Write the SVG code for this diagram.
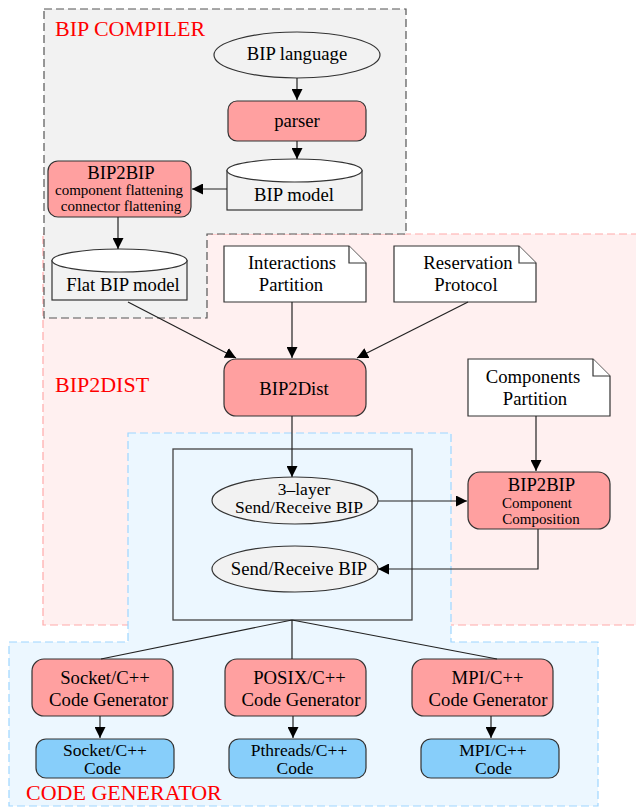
<svg xmlns="http://www.w3.org/2000/svg" width="636" height="807" viewBox="0 0 636 807">
<style>
text{font-family:'Liberation Serif','Times New Roman','DejaVu Serif',serif;fill:#000;text-anchor:middle}
.t{font-size:18.7px}
.c{font-size:17.5px}
.s{font-size:15px}
.lbl{font-size:22px;fill:#ff0000;text-anchor:start}
.proc{fill:#ffa0a0;stroke:#333;stroke-width:1.2}
.out{fill:#87cefa;stroke:#333;stroke-width:1.2}
.ell{fill:#f2f2f2;stroke:#333;stroke-width:1.2}
.note{fill:#fff;stroke:#333;stroke-width:1.2}
.cylb{fill:#f2f2f2;stroke:#333;stroke-width:1.2}
.cylt{fill:#fff;stroke:#333;stroke-width:1.2}
.edge{fill:none;stroke:#222;stroke-width:1.2}
.arr{marker-end:url(#ah)}
</style>
<defs>
<marker id="ah" markerUnits="userSpaceOnUse" markerWidth="11" markerHeight="11" refX="10" refY="5" orient="auto" viewBox="0 0 10 10">
<path d="M0,0 L10,5 L0,10 z" fill="#000"/>
</marker>
</defs>
<g font-family="'Liberation Serif','Times New Roman','DejaVu Serif',serif">
<g id="clusters">
<rect id="bip2dist-cluster" x="43" y="234" width="610" height="391" fill="#fff0f0" stroke="#ffaaaa" stroke-width="1.2" stroke-dasharray="8,4"/>
<polygon id="compiler-cluster" points="44,9 406,9 406,234 207,234 207,318 44,318" fill="#f2f2f2" stroke="#555" stroke-width="1.2" stroke-dasharray="8,4"/>
<polygon id="codegen-cluster" points="128,433 451,433 451,642 598,642 598,806 9,806 9,642 128,642" fill="#ecf7ff" stroke="#9ed6ff" stroke-width="1.2" stroke-dasharray="8,4"/>
<text class="lbl" x="55" y="36" font-family="Liberation Serif">BIP COMPILER</text>
<text class="lbl" x="55" y="392" font-family="Liberation Serif">BIP2DIST</text>
<text class="lbl" x="26" y="800" font-family="Liberation Serif">CODE GENERATOR</text>
</g>
<g id="nodes">
<g id="bip-language">
<ellipse class="ell" cx="297" cy="55" rx="83" ry="23"/>
<text class="t" x="297" y="60">BIP language</text>
</g>
<g id="parser">
<rect class="proc" x="228" y="101" width="138" height="40" rx="9"/>
<text class="t" x="297" y="127">parser</text>
</g>
<g id="bip-model">
<rect class="cylb" x="227" y="170.5" width="135" height="39.5"/>
<ellipse class="cylt" cx="294.5" cy="170.5" rx="67.5" ry="11.5"/>
<text class="t" x="294" y="201">BIP model</text>
</g>
<g id="bip2bip-flatten">
<rect class="proc" x="48" y="161" width="143" height="56" rx="10"/>
<text class="t" x="121" y="179">BIP2BIP</text>
<text class="s" x="119" y="195">component flattening</text>
<text class="s" x="121" y="211">connector flattening</text>
</g>
<g id="flat-bip-model">
<rect class="cylb" x="52" y="260.5" width="135" height="39.5"/>
<ellipse class="cylt" cx="119.5" cy="260.5" rx="67.5" ry="11.5"/>
<text class="t" x="123" y="290.5">Flat BIP model</text>
</g>
<g id="interactions-partition">
<polygon class="note" points="224,246 349,246 366,263 366,302 224,302"/>
<polyline class="note" points="349,246 349,263 366,263" fill="none"/>
<text class="t" x="292" y="268.5">Interactions</text>
<text class="t" x="291" y="290.5">Partition</text>
</g>
<g id="reservation-protocol">
<polygon class="note" points="394,246 519,246 536,263 536,302 394,302"/>
<polyline class="note" points="519,246 519,263 536,263" fill="none"/>
<text class="t" x="468" y="268.5">Reservation</text>
<text class="t" x="466" y="290.5">Protocol</text>
</g>
<g id="bip2dist">
<rect class="proc" x="224" y="359" width="142" height="57" rx="12"/>
<text class="t" x="294" y="394.5">BIP2Dist</text>
</g>
<g id="components-partition">
<polygon class="note" points="468,359 593,359 610,376 610,416 468,416"/>
<polyline class="note" points="593,359 593,376 610,376" fill="none"/>
<text class="t" x="533" y="382.5">Components</text>
<text class="t" x="535" y="404.5">Partition</text>
</g>
<g id="distributed-model">
<rect x="173" y="449" width="239" height="171" fill="none" stroke="#444" stroke-width="1.3"/>
</g>
<g id="three-layer-bip">
<ellipse class="ell" cx="295" cy="500.5" rx="83" ry="23.5"/>
<text class="c" x="304" y="494.5">3–layer</text>
<text class="c" x="299" y="513">Send/Receive BIP</text>
</g>
<g id="send-receive-bip">
<ellipse class="ell" cx="295" cy="569" rx="83" ry="23"/>
<text class="t" x="299" y="575">Send/Receive BIP</text>
</g>
<g id="bip2bip-compose">
<rect class="proc" x="468" y="472" width="142" height="57" rx="12"/>
<text class="t" x="541.5" y="490.5">BIP2BIP</text>
<text class="s" x="537" y="508">Component</text>
<text class="s" x="541" y="524">Composition</text>
</g>
<g id="socket-gen">
<rect class="proc" x="32" y="659" width="141" height="57" rx="12"/>
<text class="t" x="105" y="683.5">Socket/C++</text>
<text class="t" x="108.5" y="705.5">Code Generator</text>
</g>
<g id="posix-gen">
<rect class="proc" x="225" y="659" width="141" height="57" rx="12"/>
<text class="t" x="299.5" y="683.5">POSIX/C++</text>
<text class="t" x="301" y="705.5">Code Generator</text>
</g>
<g id="mpi-gen">
<rect class="proc" x="412" y="659" width="141" height="57" rx="12"/>
<text class="t" x="487.5" y="683.5">MPI/C++</text>
<text class="t" x="488" y="705.5">Code Generator</text>
</g>
<g id="socket-code">
<rect class="out" x="36" y="739" width="138" height="39" rx="10"/>
<text class="c" x="105" y="755.5">Socket/C++</text>
<text class="c" x="102.5" y="774">Code</text>
</g>
<g id="pthreads-code">
<rect class="out" x="229" y="739" width="137" height="39" rx="10"/>
<text class="c" x="299" y="755.5">Pthreads/C++</text>
<text class="c" x="295" y="774">Code</text>
</g>
<g id="mpi-code">
<rect class="out" x="421" y="739" width="138" height="39" rx="10"/>
<text class="c" x="493" y="755.5">MPI/C++</text>
<text class="c" x="493.5" y="774">Code</text>
</g>
</g>
<g id="connectors">
<line class="edge arr" x1="297" y1="78" x2="297" y2="100"/>
<line class="edge arr" x1="297" y1="141" x2="297" y2="159"/>
<line class="edge arr" x1="227" y1="189" x2="192" y2="189"/>
<line class="edge arr" x1="118" y1="217" x2="118" y2="249"/>
<line class="edge arr" x1="128" y1="302" x2="236" y2="358"/>
<line class="edge arr" x1="292" y1="302" x2="292" y2="358"/>
<line class="edge arr" x1="468" y1="302" x2="357" y2="358"/>
<line class="edge arr" x1="536" y1="416" x2="536" y2="471"/>
<line class="edge arr" x1="292" y1="416" x2="292" y2="477"/>
<line class="edge arr" x1="378" y1="501" x2="467" y2="501"/>
<polyline class="edge arr" points="538,529 538,569 378,569"/>
<line class="edge" x1="292" y1="620" x2="101" y2="659"/>
<line class="edge" x1="292" y1="620" x2="292" y2="659"/>
<line class="edge" x1="292" y1="620" x2="497" y2="659"/>
<line class="edge arr" x1="100" y1="716" x2="100" y2="738"/>
<line class="edge arr" x1="293" y1="716" x2="293" y2="738"/>
<line class="edge arr" x1="491" y1="716" x2="491" y2="738"/>
</g>
</g>
</svg>
